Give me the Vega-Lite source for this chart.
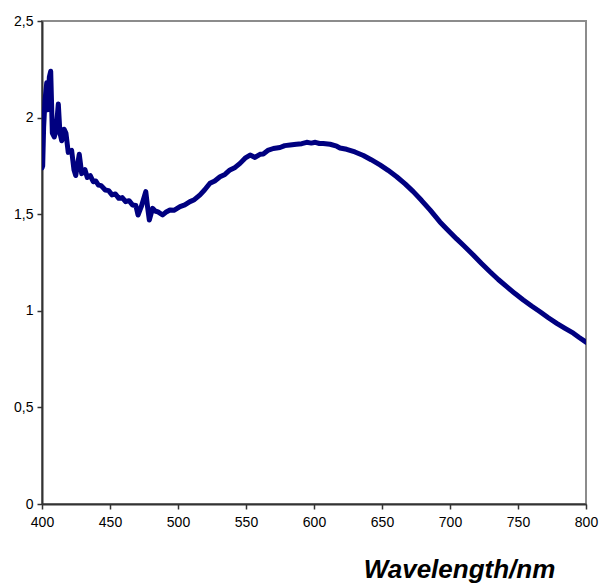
{
  "$schema": "https://vega.github.io/schema/vega-lite/v6.json",
  "width": 544,
  "height": 483,
  "autosize": {"type": "none"},
  "padding": {"left": 42, "top": 21, "right": 14, "bottom": 84},
  "background": "white",
  "config": {
    "view": {"stroke": "#8c8c8c", "strokeWidth": 2},
    "font": "Liberation Sans"
  },
  "data": {
    "values": [
      {"nm": 400.0, "abs": 1.74},
      {"nm": 400.5, "abs": 1.75},
      {"nm": 401.2, "abs": 1.95},
      {"nm": 402.2, "abs": 2.09},
      {"nm": 403.5, "abs": 2.18},
      {"nm": 404.2, "abs": 2.04},
      {"nm": 405.4, "abs": 2.21},
      {"nm": 406.4, "abs": 2.24},
      {"nm": 407.6, "abs": 1.92},
      {"nm": 409.0, "abs": 1.9},
      {"nm": 410.3, "abs": 1.93},
      {"nm": 412.0, "abs": 2.07},
      {"nm": 413.2, "abs": 1.92},
      {"nm": 414.5, "abs": 1.88},
      {"nm": 416.2, "abs": 1.94},
      {"nm": 417.6, "abs": 1.92},
      {"nm": 419.3, "abs": 1.82},
      {"nm": 421.8, "abs": 1.83},
      {"nm": 423.5, "abs": 1.73},
      {"nm": 424.8, "abs": 1.7},
      {"nm": 427.4, "abs": 1.81},
      {"nm": 429.2, "abs": 1.71},
      {"nm": 431.6, "abs": 1.73},
      {"nm": 433.3, "abs": 1.69},
      {"nm": 435.5, "abs": 1.7},
      {"nm": 437.7, "abs": 1.668},
      {"nm": 439.5, "abs": 1.672},
      {"nm": 441.5, "abs": 1.651},
      {"nm": 443.5, "abs": 1.648},
      {"nm": 446.5, "abs": 1.625},
      {"nm": 449.0, "abs": 1.622},
      {"nm": 451.5, "abs": 1.6},
      {"nm": 454.0, "abs": 1.605},
      {"nm": 456.5, "abs": 1.582},
      {"nm": 459.0, "abs": 1.586},
      {"nm": 461.5, "abs": 1.565},
      {"nm": 464.0, "abs": 1.57},
      {"nm": 466.5, "abs": 1.548},
      {"nm": 469.0, "abs": 1.545},
      {"nm": 470.6, "abs": 1.496},
      {"nm": 473.0, "abs": 1.539},
      {"nm": 476.3, "abs": 1.617},
      {"nm": 477.6, "abs": 1.539},
      {"nm": 478.9, "abs": 1.47},
      {"nm": 481.3, "abs": 1.53},
      {"nm": 483.5, "abs": 1.515},
      {"nm": 485.0, "abs": 1.513},
      {"nm": 488.7, "abs": 1.496},
      {"nm": 491.0, "abs": 1.51},
      {"nm": 494.1, "abs": 1.522},
      {"nm": 497.0, "abs": 1.52},
      {"nm": 501.5, "abs": 1.539},
      {"nm": 505.0, "abs": 1.548},
      {"nm": 508.8, "abs": 1.565},
      {"nm": 512.0, "abs": 1.575},
      {"nm": 516.2, "abs": 1.6},
      {"nm": 519.5, "abs": 1.625},
      {"nm": 523.5, "abs": 1.66},
      {"nm": 527.0, "abs": 1.672},
      {"nm": 530.9, "abs": 1.694},
      {"nm": 534.5, "abs": 1.706},
      {"nm": 538.2, "abs": 1.729},
      {"nm": 542.0, "abs": 1.742},
      {"nm": 545.6, "abs": 1.763},
      {"nm": 549.3, "abs": 1.79},
      {"nm": 553.0, "abs": 1.806},
      {"nm": 556.6, "abs": 1.794},
      {"nm": 560.3, "abs": 1.81},
      {"nm": 562.7, "abs": 1.812},
      {"nm": 566.0, "abs": 1.83},
      {"nm": 570.1, "abs": 1.84},
      {"nm": 575.0, "abs": 1.845},
      {"nm": 578.5, "abs": 1.855},
      {"nm": 582.4, "abs": 1.858},
      {"nm": 587.0, "abs": 1.862},
      {"nm": 591.0, "abs": 1.865},
      {"nm": 594.6, "abs": 1.872},
      {"nm": 598.0, "abs": 1.868},
      {"nm": 601.0, "abs": 1.872},
      {"nm": 604.0, "abs": 1.866},
      {"nm": 606.8, "abs": 1.866},
      {"nm": 611.8, "abs": 1.862},
      {"nm": 616.7, "abs": 1.852},
      {"nm": 619.1, "abs": 1.843},
      {"nm": 624.0, "abs": 1.836},
      {"nm": 630.1, "abs": 1.822},
      {"nm": 636.3, "abs": 1.804},
      {"nm": 642.0, "abs": 1.782},
      {"nm": 648.5, "abs": 1.755},
      {"nm": 654.5, "abs": 1.727},
      {"nm": 660.8, "abs": 1.694},
      {"nm": 667.0, "abs": 1.657},
      {"nm": 673.0, "abs": 1.617},
      {"nm": 679.0, "abs": 1.572},
      {"nm": 685.3, "abs": 1.522},
      {"nm": 692.6, "abs": 1.46},
      {"nm": 697.6, "abs": 1.424},
      {"nm": 704.9, "abs": 1.372},
      {"nm": 710.0, "abs": 1.338},
      {"nm": 717.1, "abs": 1.289},
      {"nm": 723.0, "abs": 1.246},
      {"nm": 729.4, "abs": 1.202},
      {"nm": 735.5, "abs": 1.162},
      {"nm": 741.7, "abs": 1.125},
      {"nm": 747.8, "abs": 1.089},
      {"nm": 753.9, "abs": 1.056},
      {"nm": 760.0, "abs": 1.025},
      {"nm": 766.2, "abs": 0.995},
      {"nm": 772.3, "abs": 0.964},
      {"nm": 778.5, "abs": 0.935},
      {"nm": 784.6, "abs": 0.909},
      {"nm": 790.7, "abs": 0.884},
      {"nm": 795.0, "abs": 0.862},
      {"nm": 800.0, "abs": 0.838}
    ]
  },
  "mark": {"type": "line", "color": "#000080", "strokeWidth": 5, "strokeJoin": "round", "strokeCap": "round", "clip": true},
  "encoding": {
    "x": {
      "field": "nm",
      "type": "quantitative",
      "scale": {"domain": [400, 800], "nice": false, "zero": false},
      "axis": {
        "values": [400, 450, 500, 550, 600, 650, 700, 750, 800],
        "grid": false,
        "domainColor": "#333333",
        "domainWidth": 2,
        "tickColor": "#333333",
        "tickWidth": 1.5,
        "tickSize": 5,
        "labelPadding": 6,
        "labelFont": "Liberation Sans",
        "labelFontSize": 14,
        "labelColor": "#000000",
        "labelFlush": false,
        "title": "Wavelength/nm",
        "titleFont": "Liberation Sans",
        "titleFontSize": 26,
        "titleFontWeight": "bold",
        "titleFontStyle": "italic",
        "titleColor": "#000000",
        "titleAlign": "center",
        "titleBaseline": "alphabetic",
        "titleX": 417,
        "titleY": 73
      }
    },
    "y": {
      "field": "abs",
      "type": "quantitative",
      "scale": {"domain": [0, 2.5], "nice": false},
      "axis": {
        "values": [0, 0.5, 1, 1.5, 2, 2.5],
        "labelExpr": "replace(toString(datum.value), '.', ',')",
        "grid": false,
        "domainColor": "#333333",
        "domainWidth": 2,
        "tickColor": "#333333",
        "tickWidth": 1.5,
        "tickSize": 5,
        "labelPadding": 4,
        "labelFont": "Liberation Sans",
        "labelFontSize": 14,
        "labelColor": "#000000",
        "labelFlush": false,
        "title": null
      }
    }
  }
}
